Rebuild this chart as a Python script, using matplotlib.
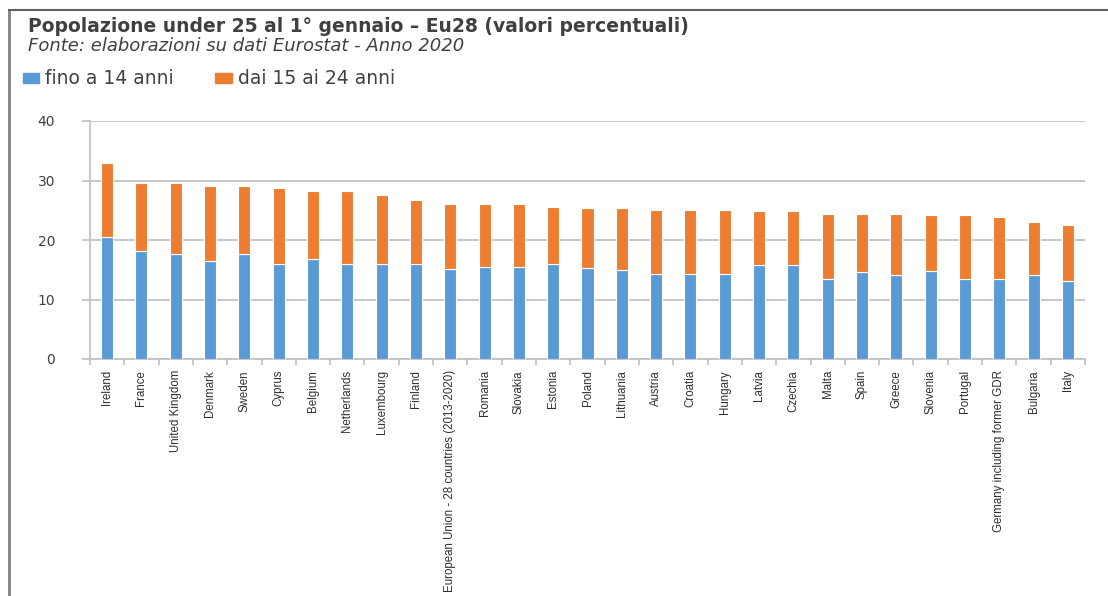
import matplotlib
matplotlib.use("Agg")
import matplotlib.pyplot as plt
from matplotlib.lines import Line2D
from matplotlib.patches import Rectangle
import numpy as np

countries = ["Ireland", "France", "United Kingdom", "Denmark", "Sweden", "Cyprus",
             "Belgium", "Netherlands", "Luxembourg", "Finland",
             "European Union - 28 countries (2013-2020)", "Romania", "Slovakia",
             "Estonia", "Poland", "Lithuania", "Austria", "Croatia", "Hungary",
             "Latvia", "Czechia", "Malta", "Spain", "Greece", "Slovenia",
             "Portugal", "Germany including former GDR", "Bulgaria", "Italy"]
under14 = [20.5, 18.2, 17.7, 16.5, 17.7, 16.0, 16.8, 16.0, 16.0, 15.9,
           15.2, 15.5, 15.5, 16.0, 15.3, 14.9, 14.3, 14.3, 14.3,
           15.8, 15.8, 13.4, 14.6, 14.1, 14.8, 13.4, 13.4, 14.1, 13.1]
total = [32.9, 29.6, 29.6, 29.1, 29.1, 28.7, 28.2, 28.2, 27.6, 26.8,
         26.0, 26.0, 26.0, 25.6, 25.4, 25.4, 25.0, 25.0, 25.0,
         24.8, 24.8, 24.4, 24.4, 24.4, 24.2, 24.2, 23.8, 23.0, 22.6]
age15_24 = [t - u for t, u in zip(total, under14)]
yticks = [0, 10, 20, 30, 40]

BLUE = "#5B9BD5"
ORANGE = "#ED7D31"
TXT = "#404040"

W, H = 1108, 596
fig = plt.figure(figsize=(W / 100, H / 100), dpi=100)
fig.patch.set_facecolor("white")

ax = fig.add_axes([90 / W, (H - 359) / H, 995 / W, 238 / H])
x = np.arange(len(countries))
ax.bar(x, under14, width=0.35, color=BLUE, edgecolor="white", linewidth=0.8, zorder=3)
ax.bar(x, age15_24, bottom=under14, width=0.35, color=ORANGE, edgecolor="white",
       linewidth=0.8, zorder=3)

ax.set_xlim(-0.5, len(countries) - 0.5)
ax.set_ylim(0, 40)
ax.set_yticks(yticks)
ax.yaxis.grid(True, color="#BFBFBF", linewidth=1.2, zorder=0)
ax.set_axisbelow(True)
for s in ["top", "right"]:
    ax.spines[s].set_visible(False)
ax.spines["left"].set_color("#BFBFBF")
ax.spines["left"].set_linewidth(1.2)
ax.spines["bottom"].set_color("#BFBFBF")
ax.spines["bottom"].set_linewidth(1.2)
ax.tick_params(axis="y", length=6, width=1.2, color="#BFBFBF", pad=19,
               labelsize=10, labelcolor=TXT)
ax.set_yticklabels([str(v) for v in yticks], fontfamily="DejaVu Sans")

# category labels at centers, tick marks at boundaries
ax.set_xticks(x)
ax.set_xticklabels(countries, rotation=90, fontsize=8.3, color="#303030",
                   fontfamily="Liberation Sans", va="top")
ax.tick_params(axis="x", length=0, pad=8)
ax.set_xticks(np.arange(-0.5, len(countries), 1.0), minor=True)
ax.tick_params(axis="x", which="minor", length=4, width=1.2, color="#BFBFBF")

# frame lines
fig.add_artist(Line2D([9 / W, 9 / W], [0, 1 - 10 / H], color="#808080", linewidth=2,
                      transform=fig.transFigure))
fig.add_artist(Line2D([9 / W, 1], [1 - 10 / H, 1 - 10 / H], color="#606060", linewidth=1.5,
                      transform=fig.transFigure))

fig.text(28 / W, 1 - 26 / H, "Popolazione under 25 al 1° gennaio – Eu28 (valori percentuali)",
         fontsize=13.5, fontweight="bold", color=TXT, fontfamily="DejaVu Sans",
         va="center", ha="left")
fig.text(28 / W, 1 - 46 / H, "Fonte: elaborazioni su dati Eurostat - Anno 2020",
         fontsize=13, style="italic", color=TXT, fontfamily="DejaVu Sans",
         va="center", ha="left")

# legend
fig.add_artist(Rectangle((23 / W, 1 - 83 / H), 16 / W, 10 / H, color=BLUE,
                         transform=fig.transFigure))
fig.text(45 / W, 1 - 78 / H, "fino a 14 anni", fontsize=13.5, color=TXT,
         fontfamily="DejaVu Sans", va="center", ha="left")
fig.add_artist(Rectangle((215 / W, 1 - 83 / H), 17 / W, 10 / H, color=ORANGE,
                         transform=fig.transFigure))
fig.text(238 / W, 1 - 78 / H, "dai 15 ai 24 anni", fontsize=13.5, color=TXT,
         fontfamily="DejaVu Sans", va="center", ha="left")

fig.savefig("out.png", dpi=100)
